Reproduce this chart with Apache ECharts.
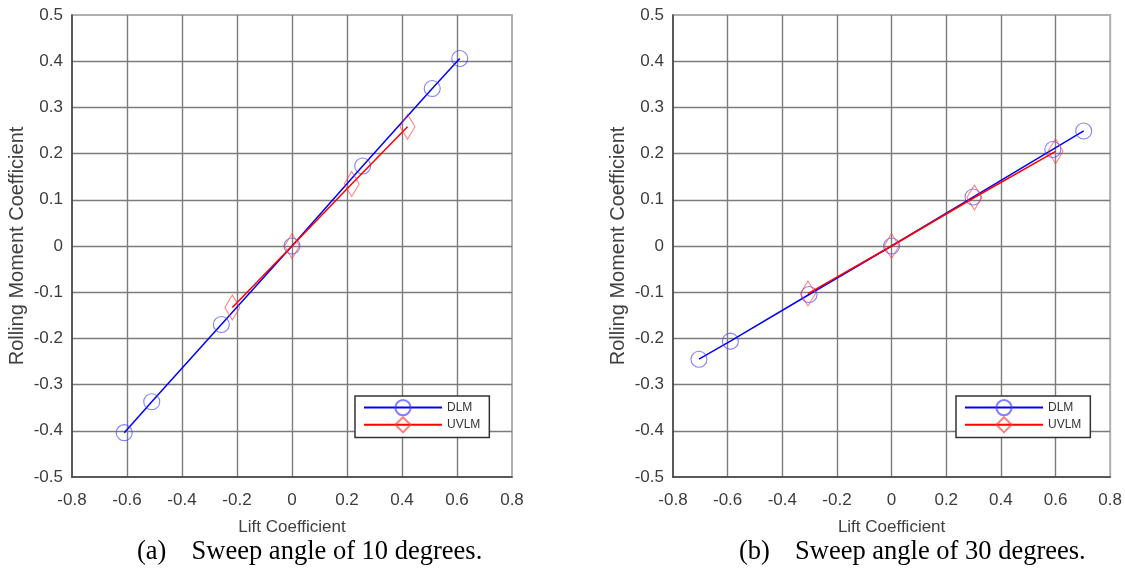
<!DOCTYPE html>
<html><head><meta charset="utf-8">
<script src="https://cdn.jsdelivr.net/npm/echarts@6/dist/echarts.min.js"></script>
<style>html,body{margin:0;padding:0;background:#fff}#c{width:1125px;height:573px}</style>
</head><body><div id="c"></div>
<script>
// ---- data ----
const xTickLabels = ['-0.8','-0.6','-0.4','-0.2','0','0.2','0.4','0.6','0.8'];
const yTickLabels = ['-0.5','-0.4','-0.3','-0.2','-0.1','0','0.1','0.2','0.3','0.4','0.5'];
const seriesNames = ['DLM','UVLM'];
const captions = ['(a)   \u2009Sweep angle of 10 degrees.', '(b)   \u2009Sweep angle of 30 degrees.'];
const xName = 'Lift Coefficient';
const yName = 'Rolling Moment Coefficient';

// sweep 10 deg
const dlm10X  = [-0.61, -0.51, -0.257, 0, 0.257, 0.51, 0.61];
const dlm10Y  = [-0.404, -0.337, -0.170, 0, 0.173, 0.341, 0.406];
const uvlm10X = [-0.217, 0, 0.217, 0.42];
const uvlm10Y = [-0.133, 0, 0.134, 0.258];
// sweep 30 deg
const dlm30X  = [-0.705, -0.59, -0.302, 0, 0.298, 0.59, 0.703];
const dlm30Y  = [-0.245, -0.206, -0.105, 0, 0.106, 0.209, 0.249];
const uvlm30X = [-0.306, 0, 0.303, 0.60];
const uvlm30Y = [-0.103, 0, 0.105, 0.205];

const zip = (a, b) => a.map((v, i) => [v, b[i]]);
const FONT = 'Liberation Sans, Arial, sans-serif';
const lbl = (arr, min, step) => v => arr[Math.round((v - min) / step)] ?? '';

function xAxis(gi) {
  return {
    type: 'value', gridIndex: gi, min: -0.8, max: 0.8, interval: 0.2,
    name: xName, nameLocation: 'middle', nameGap: 42,
    nameTextStyle: { fontFamily: FONT, fontSize: 17, color: '#404040' },
    axisLine: { onZero: false, lineStyle: { color: '#3c3c3c', width: 1.5 } },
    axisTick: { show: false },
    axisLabel: { margin: 15, fontFamily: FONT, fontSize: 17, color: '#3c3c3c', formatter: lbl(xTickLabels, -0.8, 0.2) },
    splitLine: { show: true, showMinLine: false, showMaxLine: false, lineStyle: { color: '#7c7c7c', width: 1.4 } }
  };
}
function yAxis(gi) {
  return {
    type: 'value', gridIndex: gi, min: -0.5, max: 0.5, interval: 0.1,
    name: yName, nameLocation: 'middle', nameGap: 45,
    nameTextStyle: { fontFamily: FONT, fontSize: 20, color: '#404040' },
    axisLine: { onZero: false, lineStyle: { color: '#3c3c3c', width: 1.5 } },
    axisTick: { show: false },
    axisLabel: { margin: 9, fontFamily: FONT, fontSize: 17, color: '#3c3c3c', formatter: lbl(yTickLabels, -0.5, 0.1) },
    splitLine: { show: true, showMinLine: false, showMaxLine: false, lineStyle: { color: '#7c7c7c', width: 1.4 } }
  };
}
function dlm(gi, x, y) {
  return {
    name: seriesNames[0], type: 'line', xAxisIndex: gi, yAxisIndex: gi, data: zip(x, y),
    symbol: 'circle', symbolSize: 16, showSymbol: true,
    lineStyle: { color: '#0000ff', width: 1.5 },
    itemStyle: { color: 'transparent', borderColor: 'rgba(60,60,255,0.65)', borderWidth: 1.1 },
    emphasis: { disabled: true }, z: 2
  };
}
function uvlm(gi, x, y) {
  return {
    name: seriesNames[1], type: 'line', xAxisIndex: gi, yAxisIndex: gi, data: zip(x, y),
    symbol: 'diamond', symbolSize: [15, 25], showSymbol: true,
    lineStyle: { color: '#ff0000', width: 1.5 },
    itemStyle: { color: 'transparent', borderColor: 'rgba(255,60,60,0.65)', borderWidth: 1.1 },
    emphasis: { disabled: true }, z: 3
  };
}
function legend(left) {
  return {
    data: seriesNames, orient: 'vertical', left: left, top: 396,
    itemWidth: 78, itemHeight: 19, itemGap: 0, padding: [3, 9, 4, 8],
    borderColor: '#333', borderWidth: 1.5, backgroundColor: '#fff',
    textStyle: { fontFamily: FONT, fontSize: 12, color: '#333' },
    selectedMode: false
  };
}
function caption(left, text) {
  return { text: text, left: left, top: 539, padding: 0,
    textStyle: { fontFamily: 'Liberation Serif, Times New Roman, serif', fontSize: 26.5, fontWeight: 'normal', color: '#000' } };
}

const chart = echarts.init(document.getElementById('c'), null, { renderer: 'canvas' });
chart.setOption({
  animation: false,
  backgroundColor: '#fff',
  title: [caption(137, captions[0]), caption(739, captions[1])],
  legend: [legend(355), legend(956)],
  grid: [
    { left: 72, top: 15, width: 440, height: 462, show: true, borderColor: '#b0b0b0', borderWidth: 2, backgroundColor: 'transparent' },
    { left: 673, top: 15, width: 440, height: 462, show: true, borderColor: '#b0b0b0', borderWidth: 2, backgroundColor: 'transparent' }
  ],
  xAxis: [xAxis(0), xAxis(1)],
  yAxis: [yAxis(0), yAxis(1)],
  series: [dlm(0, dlm10X, dlm10Y), uvlm(0, uvlm10X, uvlm10Y), dlm(1, dlm30X, dlm30Y), uvlm(1, uvlm30X, uvlm30Y)]
});
</script></body></html>
